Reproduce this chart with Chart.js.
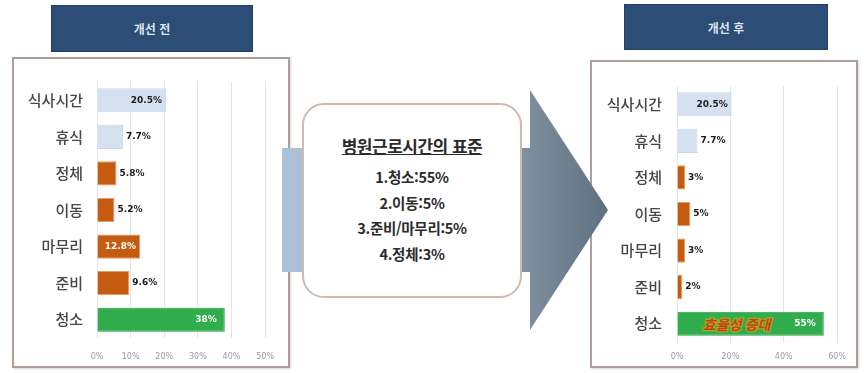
<!DOCTYPE html>
<html lang="ko">
<head>
<meta charset="utf-8">
<script src="https://cdn.jsdelivr.net/npm/chart.js@4.4.1/dist/chart.umd.min.js"></script>
<style>
  body { margin: 0; background: #fff; font-family: "Noto Sans CJK KR", "Noto Sans", sans-serif; }
  .stage { position: relative; width: 864px; height: 373px; overflow: hidden; }
  .title { position: absolute; background: #2c4d75; border: 1px solid #23405f; color: #dfe4ec;
    font-weight: bold; font-size: 12px; display: flex; align-items: center; justify-content: center; }
  .panel { position: absolute; border: 2px solid #ad9f98; background: #fff; box-shadow: 1px 1px 2px rgba(0,0,0,0.15); }
  .panel canvas { position: absolute; }
  .standard { position: absolute; left: 302px; top: 103px; width: 216px; height: 191px;
    border: 2px solid #cbbcb3; border-radius: 22px; background: #fff; text-align: center; color: #2b2b2b; }
  .standard h3 { margin: 28px 0 6px; font-size: 17px; text-decoration: underline; letter-spacing: -0.5px; }
  .standard p { margin: 0; font-size: 14.5px; font-weight: bold; line-height: 25.5px; letter-spacing: -0.3px; }
  svg { position: absolute; left: 0; top: 0; }
</style>
</head>
<body>
<div class="stage">
  <div class="title" style="left:51px;top:5px;width:200px;height:45px;">개선 전</div>
  <div class="title" style="left:624px;top:4px;width:202px;height:44px;">개선 후</div>

  <div class="panel" style="left:12px;top:57px;width:274px;height:307px;">
    <canvas id="beforeChart" width="274" height="307" style="left:0;top:0;"></canvas>
  </div>
  <div class="panel" style="left:590px;top:60px;width:264px;height:304px;">
    <canvas id="afterChart" width="264" height="304" style="left:0;top:0;"></canvas>
  </div>

  <svg width="864" height="373">
    <defs>
      <linearGradient id="arrowFill" x1="282" y1="0" x2="608" y2="0" gradientUnits="userSpaceOnUse">
        <stop offset="0" stop-color="#adc3da"/>
        <stop offset="0.65" stop-color="#8a9bab"/>
        <stop offset="1" stop-color="#5f7080"/>
      </linearGradient>
    </defs>
    <polygon points="282,148 530,148 530,90 608,210 530,330 530,272 282,272" fill="url(#arrowFill)"/>
  </svg>

  <div class="standard" id="standard"></div>
</div>

<script>
const categories = ['식사시간', '휴식', '정체', '이동', '마무리', '준비', '청소'];
const beforeValues = [20.5, 7.7, 5.8, 5.2, 12.8, 9.6, 38];
const afterValues = [20.5, 7.7, 3, 5, 3, 2, 55];
const beforeTicks = [0, 10, 20, 30, 40, 50];
const afterTicks = [0, 20, 40, 60];
const standardTitle = '병원근로시간의 표준';
const standardLines = ['1.청소:55%', '2.이동:5%', '3.준비/마무리:5%', '4.정체:3%'];
const noteText = '효율성 증대';

const BLUE = '#d5e1f0';
const ORANGE = '#c55a11';
const GREEN = '#30ad4c';
const barColors = [BLUE, BLUE, ORANGE, ORANGE, ORANGE, ORANGE, GREEN];
const barBorders = ['#c8d6ea', '#c8d6ea', '#e99a62', '#e99a62', '#e99a62', '#e99a62', '#2a9a43'];

// standard box text
const box = document.getElementById('standard');
const h = document.createElement('h3');
h.textContent = standardTitle;
box.appendChild(h);
standardLines.forEach((line) => {
  const p = document.createElement('p');
  p.textContent = line;
  box.appendChild(p);
});

// value labels next to / inside the bars
const barLabels = {
  id: 'barLabels',
  afterDatasetsDraw(chart, args, opts) {
    const ctx = chart.ctx;
    const meta = chart.getDatasetMeta(0);
    const values = chart.data.datasets[0].data;
    ctx.save();
    ctx.font = 'bold 9px "DejaVu Sans", sans-serif';
    ctx.textBaseline = 'middle';
    meta.data.forEach((bar, i) => {
      const text = values[i] + '%';
      const inside = opts.inside[i];
      if (inside) {
        ctx.fillStyle = inside;
        ctx.textAlign = 'right';
        ctx.fillText(text, bar.x - (i === 6 ? 8 : 4), bar.y);
      } else {
        ctx.fillStyle = '#1a1a1a';
        ctx.textAlign = 'left';
        ctx.fillText(text, bar.x + 3, bar.y);
      }
    });
    if (opts.note) {
      const bar = meta.data[opts.note.index];
      ctx.font = 'italic bold 14px "Noto Sans CJK KR", sans-serif';
      ctx.textAlign = 'center';
      ctx.lineWidth = 2.5;
      ctx.strokeStyle = '#a8a52a';
      const cx = (bar.base + bar.x) / 2 - 14;
      ctx.strokeText(opts.note.text, cx, bar.y + 1);
      ctx.fillStyle = '#c8400f';
      ctx.fillText(opts.note.text, cx, bar.y + 1);
    }
    ctx.restore();
  },
};

function makeChart(id, values, ticks, cfg) {
  const ctx = document.getElementById(id).getContext('2d');
  return new Chart(ctx, {
    type: 'bar',
    data: {
      labels: categories,
      datasets: [
        {
          data: values,
          backgroundColor: barColors,
          borderColor: barBorders,
          borderWidth: 1,
          categoryPercentage: 1,
          barPercentage: 0.66,
        },
      ],
    },
    options: {
      indexAxis: 'y',
      responsive: false,
      animation: false,
      devicePixelRatio: 1,
      layout: { padding: cfg.padding },
      scales: {
        x: {
          min: ticks[0],
          max: ticks[ticks.length - 1],
          afterBuildTicks: (scale) => {
            scale.ticks = ticks.map((v) => ({ value: v }));
          },
          afterFit: (scale) => {
            scale.height = cfg.xHeight;
          },
          grid: { color: '#e4e4e4', drawTicks: false },
          border: { display: false },
          ticks: {
            padding: cfg.tickPad,
            color: '#9a9a9a',
            font: { size: 8, family: 'DejaVu Sans' },
            callback: (v) => v + '%',
          },
        },
        y: {
          afterFit: (scale) => {
            scale.width = cfg.yWidth;
          },
          grid: { display: false, drawTicks: false },
          border: { display: false },
          ticks: {
            padding: cfg.labelPad,
            color: '#474747',
            font: { size: 15, family: '"Noto Sans CJK KR"', weight: '500' },
          },
        },
      },
      plugins: {
        legend: { display: false },
        tooltip: { enabled: false },
        barLabels: { inside: cfg.inside, note: cfg.note },
      },
    },
    plugins: [barLabels],
  });
}

makeChart('beforeChart', beforeValues, beforeTicks, {
  padding: { top: 14, right: 16, bottom: 0, left: 0 },
  xHeight: 28,
  tickPad: 14,
  yWidth: 83,
  labelPad: 14,
  inside: { 0: '#1a1a1a', 4: '#ffffff', 6: '#ffffff' },
  note: null,
});

makeChart('afterChart', afterValues, afterTicks, {
  padding: { top: 12, right: 7, bottom: 0, left: 0 },
  xHeight: 22,
  tickPad: 10,
  yWidth: 85,
  labelPad: 15,
  inside: { 0: '#1a1a1a', 6: '#ffffff' },
  note: { index: 6, text: noteText },
});
</script>
</body>
</html>
